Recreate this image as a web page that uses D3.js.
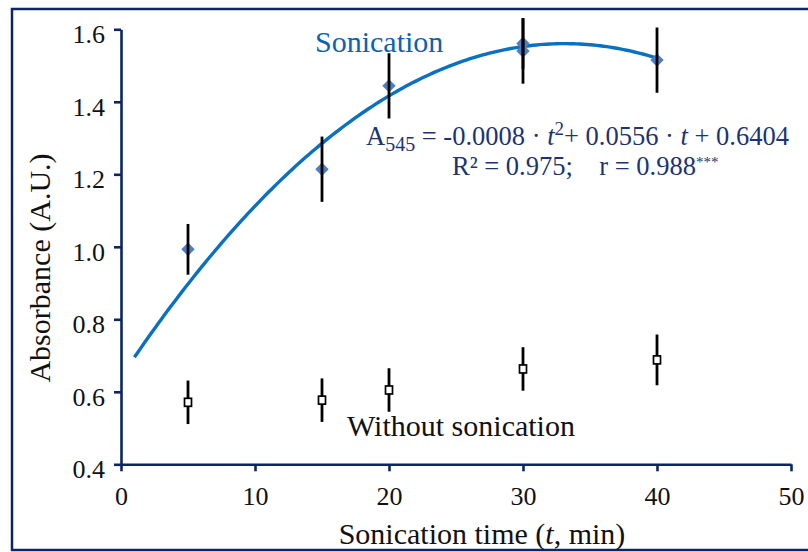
<!DOCTYPE html>
<html>
<head>
<meta charset="utf-8">
<script src="https://cdn.jsdelivr.net/npm/d3@7"></script>
<style>
  html, body { margin: 0; padding: 0; background: #fff; }
  svg { display: block; }
</style>
</head>
<body>
<svg id="chart" width="808" height="552"></svg>
<script>
// Sonication time (min) for each measurement
const sonicT = [5, 15, 20, 30, 30, 40];
const sonicA = [0.993, 1.214, 1.444, 1.561, 1.540, 1.515];
const sonicErr = [0.07, 0.09, 0.09, 0.07, 0.09, 0.09];

const plainT = [5, 15, 20, 30, 40];
const plainA = [0.571, 0.577, 0.605, 0.663, 0.688];
const plainErr = [0.06, 0.06, 0.06, 0.06, 0.07];

// Quadratic trend for the sonicated series: a·t² + b·t + c
const trendCoef = [-0.00084, 0.0556, 0.6404];
const trendRange = [1, 40];

const xTicks = [0, 10, 20, 30, 40, 50];
const yTicks = [0.4, 0.6, 0.8, 1.0, 1.2, 1.4, 1.6];

const SERIF = '"Liberation Serif", "Times New Roman", serif';
const svg = d3.select("#chart");
const navy = "#0c2566";
const eqColor = "#1c3472";

// Outer frame
svg.append("rect")
  .attr("x", 12).attr("y", 9).attr("width", 810).attr("height", 541)
  .attr("fill", "none").attr("stroke", navy).attr("stroke-width", 2.5);

const x = d3.scaleLinear().domain([0, 50]).range([121, 791]);
const y = d3.scaleLinear().domain([0.4, 1.6]).range([464.3, 29.3]);

// Axes
const xAxis = svg.append("g").attr("transform", `translate(0,${y(0.4)})`)
  .call(d3.axisBottom(x).tickValues(xTicks).tickFormat(d3.format("d")).tickSize(7).tickSizeOuter(0));
const yAxis = svg.append("g").attr("transform", `translate(${x(0)},0)`)
  .call(d3.axisLeft(y).tickValues(yTicks).tickFormat(d3.format(".1f")).tickSize(7).tickSizeOuter(0));

[xAxis, yAxis].forEach(g => {
  g.attr("font-family", null);
  g.select(".domain").attr("stroke", navy).attr("stroke-width", 2.6);
  g.selectAll(".tick line").attr("stroke", navy).attr("stroke-width", 2.6);
  g.selectAll(".tick text").attr("fill", "#111")
    .style("font-family", SERIF).style("font-size", "26px");
});
xAxis.selectAll(".tick text").attr("dy", null).attr("y", 41);
yAxis.selectAll(".tick text").attr("x", -16).attr("dy", null).attr("y", 13.5);

// Trend curve
const trend = t => trendCoef[0] * t * t + trendCoef[1] * t + trendCoef[2];
const tSamples = d3.range(trendRange[0], trendRange[1] + 0.001, 0.25);
svg.append("path")
  .datum(tSamples)
  .attr("fill", "none").attr("stroke", "#0a70c2").attr("stroke-width", 3.4)
  .attr("d", d3.line().x(t => x(t)).y(t => y(trend(t))));

// Sonicated points: diamonds with error bars
const sonic = sonicT.map((t, i) => ({ t, a: sonicA[i], e: sonicErr[i] }));
svg.append("g").selectAll("path").data(sonic).join("path")
  .attr("transform", d => `translate(${x(d.t)},${y(d.a)})`)
  .attr("d", d3.symbol().type(d3.symbolDiamond2).size(115))
  .attr("fill", "#4f7fbf");
svg.append("g").selectAll("line").data(sonic).join("line")
  .attr("x1", d => x(d.t)).attr("x2", d => x(d.t))
  .attr("y1", d => y(d.a - d.e)).attr("y2", d => y(d.a + d.e))
  .attr("stroke", "#000").attr("stroke-width", 2.8);

// Unsonicated points: hollow squares with error bars
const plain = plainT.map((t, i) => ({ t, a: plainA[i], e: plainErr[i] }));
svg.append("g").selectAll("line").data(plain).join("line")
  .attr("x1", d => x(d.t)).attr("x2", d => x(d.t))
  .attr("y1", d => y(d.a - d.e)).attr("y2", d => y(d.a + d.e))
  .attr("stroke", "#000").attr("stroke-width", 2.8);
svg.append("g").selectAll("rect").data(plain).join("rect")
  .attr("x", d => x(d.t) - 3.5).attr("y", d => y(d.a) - 4)
  .attr("width", 7).attr("height", 8)
  .attr("fill", "#fff").attr("stroke", "#000").attr("stroke-width", 1.7);

function label(xp, yp, size, color) {
  return svg.append("text").attr("x", xp).attr("y", yp).attr("fill", color)
    .style("font-family", SERIF).style("font-size", size + "px");
}

// Series labels
label(315, 52, 30, "#0a62b0").text("Sonication");
label(347, 436, 30, "#111").text("Without sonication");

// Fit equation
const eq = label(366, 145, 26.5, eqColor);
eq.append("tspan").text("A");
eq.append("tspan").style("font-size", "20px").attr("dy", 6).text("545");
eq.append("tspan").attr("dy", -6).text(" = -0.0008 \u00b7 ");
eq.append("tspan").style("font-style", "italic").text("t");
eq.append("tspan").style("font-size", "19px").attr("dy", -10).text("2");
eq.append("tspan").attr("dy", 10).text("+ 0.0556 \u00b7 ");
eq.append("tspan").style("font-style", "italic").text("t");
eq.append("tspan").text(" + 0.6404");

const r2 = label(452, 175, 26.5, eqColor).style("white-space", "pre");
r2.append("tspan").text("R\u00b2 = 0.975;    r = 0.988");
r2.append("tspan").style("font-size", "15px").attr("dy", -8).text("***");

// Axis titles
const xt = label(482, 544, 30, "#111").attr("text-anchor", "middle");
xt.append("tspan").text("Sonication time (");
xt.append("tspan").style("font-style", "italic").text("t");
xt.append("tspan").text(", min)");

label(0, 0, 30, "#111")
  .attr("transform", "translate(50,268) rotate(-90)")
  .attr("text-anchor", "middle")
  .text("Absorbance (A.U.)");
</script>
</body>
</html>
